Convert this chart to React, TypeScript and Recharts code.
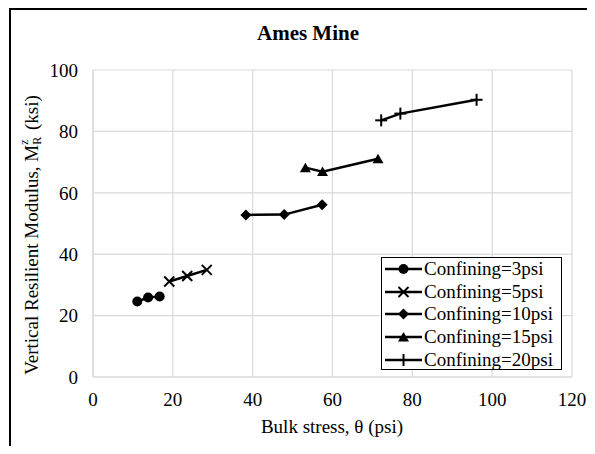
import React from "react";
import { LineChart, Line, XAxis, YAxis, CartesianGrid } from "recharts";

const FONT = '"Liberation Serif", "Times New Roman", serif';

// bulk stress (psi) and vertical resilient modulus (ksi) per confining pressure
const conf3X = [11.1, 13.8, 16.7];
const conf3Y = [24.6, 25.9, 26.2];
const conf5X = [19.1, 23.6, 28.5];
const conf5Y = [31.1, 32.9, 34.9];
const conf10X = [38.3, 47.9, 57.4];
const conf10Y = [52.8, 52.9, 56.1];
const conf15X = [53.2, 57.5, 71.4];
const conf15Y = [68.2, 66.9, 71.1];
const conf20X = [72.2, 77.0, 96.1];
const conf20Y = [83.6, 85.8, 90.3];

const seriesNames = [
  "Confining=3psi",
  "Confining=5psi",
  "Confining=10psi",
  "Confining=15psi",
  "Confining=20psi",
];
const seriesShapes = ["circle", "cross", "diamond", "triangle", "plus"];

const xTicks = [0, 20, 40, 60, 80, 100, 120];
const yTicks = [0, 20, 40, 60, 80, 100];

const toPoints = (xs: number[], ys: number[]) => xs.map((x, i) => ({ x, y: ys[i] }));

const series = [
  toPoints(conf3X, conf3Y),
  toPoints(conf5X, conf5Y),
  toPoints(conf10X, conf10Y),
  toPoints(conf15X, conf15Y),
  toPoints(conf20X, conf20Y),
];

function Marker({ shape, cx, cy }: { shape: string; cx: number; cy: number }) {
  if (cx == null || cy == null) return null;
  switch (shape) {
    case "circle":
      return <circle cx={cx} cy={cy} r={5} fill="#000" />;
    case "cross":
      return (
        <g stroke="#000" strokeWidth={2}>
          <line x1={cx - 5} y1={cy - 5} x2={cx + 5} y2={cy + 5} />
          <line x1={cx - 5} y1={cy + 5} x2={cx + 5} y2={cy - 5} />
        </g>
      );
    case "diamond":
      return <polygon points={`${cx - 5.5},${cy} ${cx},${cy - 5.5} ${cx + 5.5},${cy} ${cx},${cy + 5.5}`} fill="#000" />;
    case "triangle":
      return <polygon points={`${cx - 5.5},${cy + 4.5} ${cx},${cy - 5} ${cx + 5.5},${cy + 4.5}`} fill="#000" />;
    default:
      return (
        <g stroke="#000" strokeWidth={2}>
          <line x1={cx - 6} y1={cy} x2={cx + 6} y2={cy} />
          <line x1={cx} y1={cy - 6} x2={cx} y2={cy + 6} />
        </g>
      );
  }
}

function LegendBox() {
  return (
    <div
      style={{
        position: "absolute",
        left: 381,
        top: 257,
        border: "1.5px solid #000",
        background: "#fff",
        width: 179,
        height: 111,
        boxSizing: "content-box",
        fontFamily: FONT,
        fontSize: 19,
        color: "#000",
      }}
    >
      {seriesNames.map((name, i) => (
        <div key={name} style={{ display: "flex", alignItems: "center", height: 22.6 }}>
          <svg width={42} height={20} style={{ flex: "none" }}>
            <line x1={3} y1={10} x2={40} y2={10} stroke="#000" strokeWidth={2.5} />
            <Marker shape={seriesShapes[i]} cx={21.5} cy={10} />
          </svg>
          <span style={{ lineHeight: "20px", whiteSpace: "nowrap" }}>{name}</span>
        </div>
      ))}
    </div>
  );
}

export default function App() {
  return (
    <div
      style={{
        position: "relative",
        width: 595,
        height: 454,
        margin: -8,
        overflow: "hidden",
        background: "#fff",
      }}
    >
      <div
        style={{
          position: "absolute",
          left: 9,
          top: 8,
          width: 620,
          height: 480,
          border: "2px solid #000",
        }}
      />
      <div
        style={{
          position: "absolute",
          left: 208,
          top: 21,
          width: 200,
          textAlign: "center",
          fontFamily: FONT,
          fontWeight: "bold",
          fontSize: 21,
        }}
      >
        Ames Mine
      </div>
      <div
        style={{
          position: "absolute",
          left: 32,
          top: 235,
          transform: "translate(-50%, -50%) rotate(-90deg)",
          whiteSpace: "nowrap",
          fontFamily: FONT,
          fontSize: 19,
        }}
      >
        Vertical Resilient Modulus, M
        <span style={{ position: "relative", display: "inline-block", width: 10, height: 12 }}>
          <span style={{ position: "absolute", left: 0, top: -9, fontSize: 12 }}>z</span>
          <span style={{ position: "absolute", left: 0, top: 4, fontSize: 12 }}>R</span>
        </span>{" "}
        (ksi)
      </div>
      <div
        style={{
          position: "absolute",
          left: 232,
          top: 416,
          width: 200,
          textAlign: "center",
          fontFamily: FONT,
          fontSize: 19,
        }}
      >
        Bulk stress, θ (psi)
      </div>
      <div style={{ position: "absolute", left: 0, top: 0, fontFamily: FONT }}>
        <LineChart width={595} height={454} margin={{ top: 70, right: 23, bottom: 47, left: 33 }}>
          <CartesianGrid stroke="#d9d9d9" strokeWidth={1.2} />
          <XAxis
            type="number"
            dataKey="x"
            domain={[0, 120]}
            ticks={xTicks}
            interval={0}
            height={30}
            tickSize={0}
            tickMargin={16}
            axisLine={{ stroke: "#d9d9d9", strokeWidth: 1.2 }}
            tickLine={false}
            tick={{ fill: "#000", fontSize: 19, fontFamily: FONT }}
            allowDuplicatedCategory={false}
          />
          <YAxis
            type="number"
            dataKey="y"
            domain={[0, 100]}
            ticks={yTicks}
            interval={0}
            width={60}
            tickSize={0}
            tickMargin={15}
            axisLine={{ stroke: "#d9d9d9", strokeWidth: 1.2 }}
            tickLine={false}
            tick={{ fill: "#000", fontSize: 19, fontFamily: FONT }}
          />
          {series.map((data, i) => (
            <Line
              key={seriesNames[i]}
              name={seriesNames[i]}
              data={data}
              dataKey="y"
              type="linear"
              stroke="#000"
              strokeWidth={2.5}
              dot={(p: any) => <Marker key={`${i}-${p.index}`} shape={seriesShapes[i]} cx={p.cx} cy={p.cy} />}
              activeDot={false}
              isAnimationActive={false}
            />
          ))}
        </LineChart>
      </div>
      <LegendBox />
    </div>
  );
}
